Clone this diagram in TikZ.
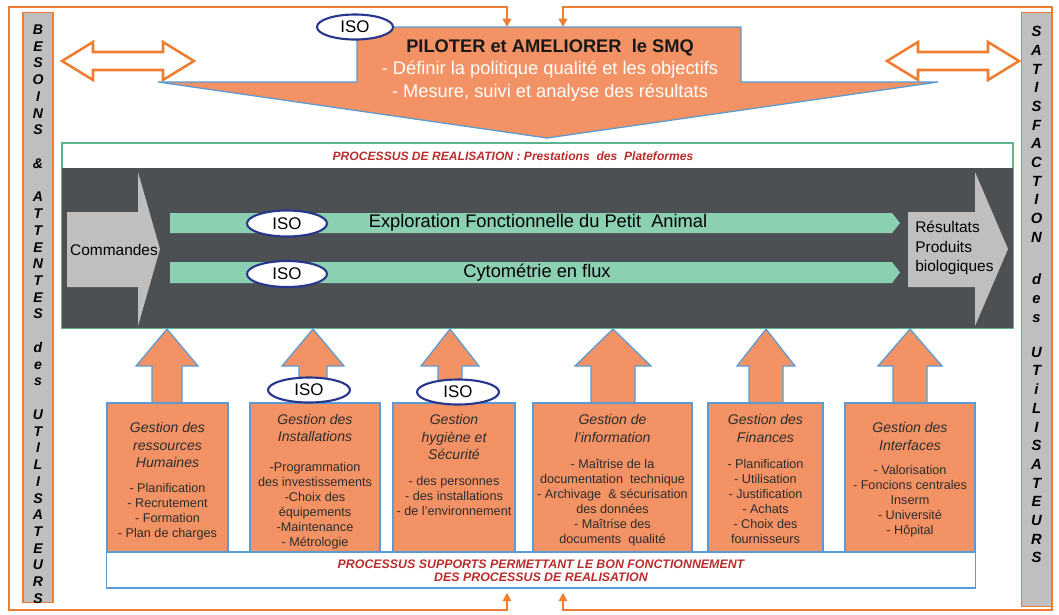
\documentclass[tikz,border=0pt]{standalone}
\usepackage{fontspec}
\setmainfont{Liberation Sans}
\usetikzlibrary{arrows.meta,positioning,shapes.geometric}
\definecolor{orfill}{RGB}{243,146,100}
\definecolor{orline}{RGB}{237,125,49}
\definecolor{blueline}{RGB}{91,155,213}
\definecolor{darkbg}{RGB}{77,80,83}
\definecolor{mint}{RGB}{140,208,178}
\definecolor{greenline}{RGB}{90,180,140}
\definecolor{colgray}{RGB}{191,191,191}
\definecolor{redtxt}{RGB}{185,45,45}
\definecolor{isoblue}{RGB}{40,55,140}
\definecolor{txtgray}{RGB}{45,45,45}
\newcommand{\gtit}[1]{{\fontsize{10}{12}\selectfont\itshape #1}}

\begin{document}
\begin{tikzpicture}[x=0.025cm,y=-0.025cm,
  every node/.style={font=\fontsize{9}{10.7}\selectfont},
  col/.style={draw=orline,line width=0.8pt,fill=colgray,minimum width=0.75cm,inner sep=0pt},
  colt/.style={align=center,inner sep=0pt,anchor=north},
  blk/.style={fill=orfill,draw=blueline,line width=0.9pt},
  dbl/.style={fill=white,draw=orline,line width=1.8pt,line join=miter},
  fb/.style={draw=orline,line width=1.8pt,{Triangle[length=6pt,width=6pt]}-{Triangle[length=6pt,width=6pt]}},
  iso/.style={ellipse,draw=isoblue,line width=1.5pt,fill=white,inner sep=0pt,minimum width=2cm,minimum height=0.65cm,font=\fontsize{12}{14}\selectfont},
  gbox/.style={draw=blueline,fill=orfill,line width=0.8pt,inner sep=0pt,minimum height=3.725cm},
  gtxt/.style={align=center,inner sep=0pt,anchor=north,text=txtgray},
  redt/.style={text=redtxt,font=\fontsize{8.8}{9.3}\selectfont\bfseries\itshape,align=center,inner sep=0pt},
  gryarr/.style={fill=colgray,draw=none},
  bar/.style={fill=mint,draw=none}]
\fill[white] (0,0) rectangle (1059,614);
\useasboundingbox (0,0) rectangle (1059,614);

% side columns
\node[col,minimum height=14.725cm] (besoin) at (38,307.5) {};
\node[colt,font=\fontsize{10}{11.9}\selectfont\bfseries\itshape] (besoint) at (38,24.5)
  {B\\E\\S\\O\\I\\N\\S\\[11.9pt]\&\\[11.9pt]A\\T\\T\\E\\N\\T\\E\\S\\[11.9pt]d\\e\\s\\[11.9pt]U\\T\\I\\L\\I\\S\\A\\T\\E\\U\\R\\S};
\node[col,minimum height=14.85cm] (satis) at (1036.5,309.5) {};
\node[colt,font=\fontsize{10.5}{13.3}\selectfont\bfseries\itshape] (satist) at (1036.5,26)
  {S\\A\\T\\I\\S\\F\\A\\C\\T\\I\\O\\N\\[17pt]d\\e\\s\\[11.5pt]U\\T\\i\\L\\I\\S\\A\\T\\E\\U\\R\\S};

% double arrows
\foreach \x in {62,887}
  \draw[dbl] (\x,61) -- (\x+31,42) -- (\x+31,52) -- (\x+101,52) -- (\x+101,42) -- (\x+132,61)
    -- (\x+101,80) -- (\x+101,70) -- (\x+31,70) -- (\x+31,80) -- cycle;

% piloter
\draw[blk] (357,27) -- (741,27) -- (741,82) -- (938,82) -- (547,138) -- (158,82) -- (357,82) -- cycle;
\coordinate (smqtop) at (549,27);
\node[align=center,font=\fontsize{13}{16}\selectfont,text=white] (smq) at (550,70)
  {\textcolor{black!90}{\bfseries PILOTER et AMELIORER\ \ le SMQ}\\- Définir la politique qualité et les objectifs\\- Mesure, suivi et analyse des résultats};
\node[iso,minimum width=1.9cm,minimum height=0.625cm] (iso0) at (355,27) {ISO};

% realisation
\draw[draw=greenline,fill=white,line width=0.8pt] (62,143) rectangle (1013,328);
\fill[darkbg] (62,168) rectangle (1013,328);
\node[redt,font=\fontsize{8.6}{9.3}\selectfont\bfseries\itshape] (realis) at (513,156) {PROCESSUS DE REALISATION : Prestations\ \ des\ \ Plateformes};
\fill[gryarr] (67,212) -- (138,212) -- (138,172) -- (160,249) -- (138,326) -- (138,287) -- (67,287) -- cycle;
\fill[gryarr] (908,212) -- (975,212) -- (975,172) -- (1008,249) -- (975,326) -- (975,287) -- (908,287) -- cycle;
\fill[bar] (170,213) -- (892,213) -- (900,223) -- (892,233) -- (170,233) -- cycle;
\fill[bar] (170,262) -- (892,262) -- (900,272.5) -- (892,283) -- (170,283) -- cycle;
\node[font=\fontsize{11}{13}\selectfont] (cmd) at (114,250) {Commandes};
\node[anchor=west,align=left,font=\fontsize{11}{13.9}\selectfont,inner sep=0pt] (res) at (915,248)
  {Résultats\\Produits\\biologiques};
\node[font=\fontsize{13}{15}\selectfont] (efpa) at (538,223) {Exploration Fonctionnelle du Petit\ \ Animal};
\node[font=\fontsize{13}{15}\selectfont] (cyto) at (537,272.5) {Cytométrie en flux};
\node[iso] (iso1) at (287,223.5) {ISO};
\node[iso] (iso2) at (287,274) {ISO};

% supports
\foreach \cx/\hw/\sw in {167/31/15,313/31/14,450/29/12,613/38/22,766/29/17,910/32/17}
  \draw[blk] (\cx-\sw,403) -- (\cx-\sw,366) -- (\cx-\hw,366) -- (\cx,329) -- (\cx+\hw,366) -- (\cx+\sw,366) -- (\cx+\sw,403);
\node[gbox,minimum width=3.025cm] (gb1) at (167.5,477.5) {};
\node[gbox,minimum width=3.25cm] (gb2) at (315,477.5) {};
\node[gbox,minimum width=3.05cm] (gb3) at (454,477.5) {};
\node[gbox,minimum width=3.975cm] (gb4) at (612.5,477.5) {};
\node[gbox,minimum width=2.875cm] (gb5) at (765.5,477.5) {};
\node[gbox,minimum width=3.25cm] (gb6) at (910,477.5) {};
\node[iso,minimum width=2.05cm,minimum height=0.625cm] (iso3) at (309,390) {ISO};
\node[iso,minimum width=2.05cm,minimum height=0.625cm] (iso4) at (458,392) {ISO};

\node[gtxt,below=14pt of gb1.north] (gt1) {\gtit{Gestion des}\\[1.7pt]\gtit{ressources}\\[1.7pt]\gtit{Humaines}\\[7.3pt]
  - Planification\\- Recrutement\\- Formation\\- Plan de charges};
\node[gtxt,below=8pt of gb2.north] (gt2) {\gtit{Gestion des}\\[1.7pt]\gtit{Installations}\\[10.4pt]
  -Programmation\\des investissements\\-Choix des\\équipements\\-Maintenance\\- Métrologie};
\node[gtxt,below=8.5pt of gb3.north] (gt3) {\gtit{Gestion}\\[1.7pt]\gtit{hygiène et}\\[1.7pt]\gtit{Sécurité}\\[7.8pt]
  - des personnes\\- des installations\\- de l'environnement};
\node[gtxt,below=8.5pt of gb4.north] (gt4) {\gtit{Gestion de}\\[1.7pt]\gtit{l'information}\\[7.8pt]
  - Maîtrise de la\\documentation\ \ technique\\- Archivage\ \ \& sécurisation\\des données\\- Maîtrise des\\documents\ \ qualité};
\node[gtxt,below=8.5pt of gb5.north] (gt5) {\gtit{Gestion des}\\[1.7pt]\gtit{Finances}\\[7.8pt]
  - Planification\\- Utilisation\\- Justification\\- Achats\\- Choix des\\fournisseurs};
\node[gtxt,below=14pt of gb6.north] (gt6) {\gtit{Gestion des}\\[1.7pt]\gtit{Interfaces}\\[6.4pt]
  - Valorisation\\- Foncions centrales\\Inserm\\- Université\\- Hôpital};
\node[draw=blueline,fill=white,line width=0.8pt,minimum width=21.7cm,minimum height=0.9cm,inner sep=0pt] (sup) at (541,570) {};
\node[redt] (supt) at (541,571) {PROCESSUS SUPPORTS PERMETTANT LE BON FONCTIONNEMENT\\DES PROCESSUS DE REALISATION};

% feedback loops
\draw[fb,shorten <=3pt] (sup.south -| 507,0) -- (507,610) -| (9,7) -| (smqtop -| 507,0);
\draw[fb,shorten <=3pt] (sup.south -| 563,0) -- (563,610) -| (1052,7) -| (smqtop -| 563,0);
\end{tikzpicture}
\end{document}
